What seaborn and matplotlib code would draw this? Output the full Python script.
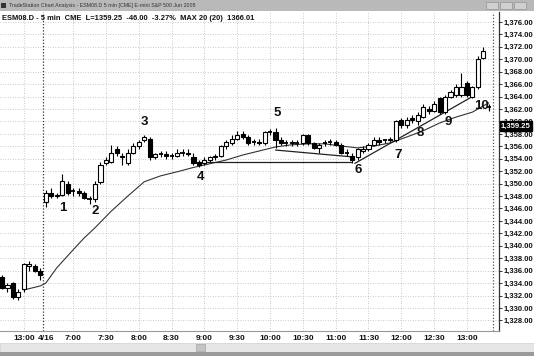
import matplotlib
matplotlib.use("Agg")
import matplotlib.pyplot as plt
import matplotlib.transforms as mtrans
from matplotlib.patches import Rectangle
import seaborn as sns
import numpy as np
import pandas as pd

# ---------------- data (5-min bars, ESM08) ----------------
bar_index = list(range(-8, 82))
opens = [1335.0, 1333.25, 1334.0, 1331.75, 1333.0, 1336.75, 1336.75, 1336.0,
         1347.0, 1348.5, 1348.0, 1348.25, 1350.0, 1348.75, 1348.75, 1348.5, 1347.5, 1347.5,
         1350.25, 1353.25, 1353.5, 1355.5, 1354.5, 1353.25, 1355.0, 1356.0, 1357.0, 1357.25,
         1354.25, 1354.75, 1354.75, 1354.5, 1354.5, 1355.0, 1355.0, 1354.25, 1353.5, 1353.25,
         1353.75, 1354.25, 1354.5, 1356.0, 1356.5, 1357.25, 1358.0, 1357.5, 1356.75, 1356.75,
         1356.5, 1358.25, 1358.25, 1357.0, 1356.5, 1356.5, 1356.5, 1356.5, 1357.75, 1356.5,
         1355.75, 1356.5, 1356.75, 1356.75, 1356.25, 1355.0, 1354.5, 1354.25, 1355.25, 1355.5,
         1356.25, 1357.0, 1357.0, 1357.0, 1357.0, 1360.25, 1359.5, 1360.5, 1360.0, 1360.75,
         1362.0, 1361.75, 1363.75, 1361.5, 1364.0, 1364.25, 1364.25, 1366.25, 1364.0, 1365.5,
         1370.25, 1362.25]
highs = [1335.25, 1334.0, 1334.25, 1333.0, 1337.25, 1337.5, 1337.0, 1336.5,
         1349.0, 1349.25, 1348.5, 1351.5, 1350.5, 1349.25, 1349.25, 1348.75, 1348.0, 1350.5,
         1353.5, 1354.25, 1356.25, 1356.0, 1355.0, 1355.5, 1356.5, 1357.0, 1357.75, 1357.5,
         1355.0, 1355.25, 1355.25, 1355.0, 1355.5, 1355.5, 1355.5, 1355.0, 1353.75, 1354.25,
         1354.5, 1354.75, 1356.25, 1357.0, 1357.75, 1358.5, 1358.5, 1357.75, 1357.25, 1357.25,
         1358.5, 1358.75, 1359.0, 1357.5, 1357.0, 1357.0, 1357.0, 1358.0, 1358.0, 1356.75,
         1356.5, 1357.0, 1357.25, 1357.0, 1356.5, 1355.5, 1355.0, 1355.75, 1356.0, 1356.5,
         1357.5, 1357.5, 1357.25, 1357.5, 1360.25, 1360.5, 1360.75, 1361.0, 1361.5, 1362.75,
         1362.5, 1363.25, 1364.0, 1364.25, 1365.0, 1366.0, 1367.75, 1366.5, 1365.75, 1370.5,
         1372.0, 1362.75]
lows = [1333.0, 1332.5, 1331.5, 1331.25, 1332.5, 1336.0, 1335.75, 1334.5,
        1346.25, 1347.75, 1347.75, 1348.0, 1348.25, 1348.0, 1348.0, 1347.5, 1346.75, 1347.0,
        1350.0, 1353.0, 1353.25, 1354.5, 1353.0, 1353.0, 1354.75, 1355.5, 1356.75, 1353.75,
        1354.0, 1354.25, 1354.0, 1354.0, 1354.25, 1354.5, 1354.5, 1353.0, 1352.75, 1353.0,
        1353.5, 1353.75, 1354.25, 1355.5, 1356.25, 1357.0, 1357.25, 1356.25, 1356.25, 1356.25,
        1356.25, 1357.75, 1355.75, 1356.25, 1356.0, 1356.0, 1356.0, 1356.25, 1356.25, 1355.5,
        1355.0, 1356.0, 1356.25, 1356.0, 1354.75, 1354.5, 1353.25, 1353.75, 1355.0, 1355.25,
        1356.0, 1356.25, 1356.5, 1356.75, 1356.75, 1359.0, 1359.0, 1359.75, 1359.5, 1360.5,
        1361.25, 1361.5, 1361.25, 1361.25, 1363.75, 1364.0, 1364.0, 1364.0, 1363.75, 1365.25,
        1370.0, 1361.75]
closes = [1333.25, 1333.75, 1331.75, 1332.5, 1337.0, 1337.0, 1336.0, 1335.25,
          1348.5, 1348.0, 1348.25, 1350.5, 1348.5, 1348.75, 1348.5, 1347.75, 1347.5, 1350.0,
          1353.0, 1353.75, 1355.0, 1355.0, 1354.25, 1355.0, 1356.0, 1356.75, 1357.5, 1354.25,
          1354.75, 1354.75, 1354.5, 1354.5, 1355.0, 1355.0, 1354.75, 1353.25, 1353.0, 1353.75,
          1354.25, 1354.5, 1356.0, 1356.75, 1357.25, 1357.75, 1357.5, 1356.5, 1356.75, 1356.5,
          1358.25, 1358.25, 1357.0, 1356.5, 1356.5, 1356.75, 1356.5, 1357.75, 1356.5, 1355.75,
          1356.25, 1356.5, 1356.75, 1356.25, 1355.0, 1355.0, 1353.75, 1355.5, 1355.5, 1356.25,
          1357.0, 1356.75, 1357.0, 1357.25, 1360.0, 1359.5, 1360.25, 1360.25, 1361.0, 1362.25,
          1361.75, 1362.75, 1361.5, 1364.0, 1364.75, 1365.5, 1365.5, 1364.25, 1365.5, 1370.0,
          1371.25, 1362.25]

# 20-bar moving average
ma_idx = [-4, -1, 0, 2, 5, 7, 9, 12, 15, 18, 21, 24, 27, 30, 33, 36, 39, 42, 45, 48,
          51, 54, 57, 60, 63, 66, 69, 72, 75, 78, 80, 81]
ma_val = [1332.9, 1333.55, 1334.0, 1336.45, 1339.35, 1341.25, 1342.9, 1345.6, 1348.0,
          1350.3, 1351.25, 1351.9, 1352.6, 1353.2, 1353.8, 1354.6, 1355.25, 1355.9,
          1356.25, 1356.4, 1356.4, 1356.05, 1355.75, 1356.05, 1356.55, 1357.5, 1358.5,
          1359.75, 1360.7, 1361.5, 1362.5, 1363.0]

# hand-drawn trendlines: (x0, y0, x1, y1)
trend_x0 = [28.5, 42, 56.5]
trend_y0 = [1353.5, 1355.4, 1353.25]
trend_x1 = [56, 56, 78]
trend_y1 = [1353.5, 1354.3, 1364.0]

# swing labels
note_text = ["1", "2", "3", "4", "5", "6", "7", "8", "9", "10"]
note_x = [3.1, 9.0, 18.1, 28.2, 42.3, 57.1, 64.4, 68.4, 73.5, 79.6]
note_y = [1346.1, 1345.6, 1359.9, 1351.1, 1361.4, 1352.2, 1354.6, 1358.15, 1359.9, 1362.5]

# time axis labels
tick_pos = [-4, 0, 5, 11, 17, 23, 29, 35, 41, 47, 53, 59, 65, 71, 77]
tick_lab = ["13:00", "4/16", "7:00", "7:30", "8:00", "8:30", "9:00", "9:30", "10:00",
            "10:30", "11:00", "11:30", "12:00", "12:30", "13:00"]
price_ticks = list(range(1328, 1378, 2))
last_price = 1359.25
header = "ESM08.D - 5 min  CME  L=1359.25  -46.00  -3.27%  MAX 20 (20)  1366.01"
window_title = "TradeStation Chart Analysis - ESM08.D 5 min [CME] E-mini S&P 500 Jun 2008"

# ---------------- drawing ----------------
sns.set_style("white")
plt.rcParams["font.family"] = ["Liberation Sans", "DejaVu Sans"]

W, H = 534, 356
fig = plt.figure(figsize=(W / 100, H / 100), dpi=100)
fig.patch.set_facecolor("white")

ax = fig.add_axes([0, (H - 331) / H, 499 / W, (331 - 12) / H])
ax.set_facecolor("white")
ax.set_xlim(-8.37, 82.86)
ax.set_ylim(1326.3, 1377.6)

# grid
for p in price_ticks:
    ax.axhline(p, color="#b8b8b8", lw=0.6, ls=(0, (1, 2)), zorder=0)
for t in tick_pos:
    if t == 0:
        continue
    ax.axvline(t, color="#b8b8b8", lw=0.6, ls=(0, (1, 2)), zorder=0)
ax.axvline(-0.5, color="#333333", lw=0.9, ls=(0, (1, 1.5)), zorder=1)
ax.axvline(81.75, color="#555555", lw=0.9, ls=(0, (1, 1.5)), zorder=1)

df = pd.DataFrame({"i": bar_index, "o": opens, "h": highs, "l": lows, "c": closes})
# wicks
ax.vlines(df["i"], df["l"], df["h"], color="black", lw=0.8, zorder=3)
# bodies
bw = 0.75
for _, r in df.iterrows():
    lo, hi = min(r.o, r.c), max(r.o, r.c)
    if hi - lo < 0.2:
        ax.hlines(r.c, r.i - bw / 2, r.i + bw / 2, color="black", lw=1.3, zorder=4)
    else:
        fc = "white" if r.c > r.o else "black"
        ax.bar(r.i, hi - lo, bottom=lo, width=bw, color=fc, edgecolor="black",
               linewidth=0.8, zorder=4)

# moving average
ma_df = pd.DataFrame({"i": ma_idx, "ma": ma_val})
sns.lineplot(data=ma_df, x="i", y="ma", ax=ax, color="#333333", lw=0.8, zorder=2)

# trendlines
for x0, y0, x1, y1 in zip(trend_x0, trend_y0, trend_x1, trend_y1):
    ax.plot([x0, x1], [y0, y1], color="#222222", lw=0.9, zorder=2)

for t, x, y in zip(note_text, note_x, note_y):
    ax.text(x, y, t, ha="center", va="center", fontsize=9.5, fontweight="bold",
            color="#111111", zorder=6)

# axes styling
ax.set_xlabel("")
ax.set_ylabel("")
ax.yaxis.tick_right()
ax.set_yticks(price_ticks)
ax.set_yticklabels([f"{p:,.2f}" for p in price_ticks])
ax.tick_params(axis="y", length=2.5, width=0.6, pad=0.5, labelsize=5.5, colors="#111111")
for lab in ax.get_yticklabels():
    lab.set_fontweight("bold")
ax.set_xticks(tick_pos)
ax.set_xticklabels(tick_lab)
ax.tick_params(axis="x", length=0, pad=3, labelsize=6, colors="#111111")
for lab in ax.get_xticklabels():
    lab.set_fontweight("bold")
for s in ["top", "left"]:
    ax.spines[s].set_visible(False)
ax.spines["right"].set_color("#333333")
ax.spines["right"].set_linewidth(0.9)
ax.spines["bottom"].set_color("#999999")
ax.spines["bottom"].set_linewidth(0.8)

# last price marker on the price scale
trans = mtrans.blended_transform_factory(ax.transAxes, ax.transData)
ax.text(1.004, last_price, f"{last_price:,.2f}", transform=trans, ha="left", va="center",
        fontsize=5.5, fontweight="bold", color="white", clip_on=False, zorder=8,
        bbox=dict(boxstyle="square,pad=0.15", fc="black", ec="black"))

# header line inside chart
fig.text(2 / W, 1 - 18 / H, header, ha="left", va="center", fontsize=5.4,
         fontweight="bold", color="#111111")

# window title bar
fig.patches.append(Rectangle((0, 1 - 11 / H), 1, 11 / H, transform=fig.transFigure,
                             fc="#b9b9b9", ec="none", zorder=0))
fig.patches.append(Rectangle((1 / W, 1 - 8 / H), 5 / W, 5 / H, transform=fig.transFigure,
                             fc="#333333", ec="none", zorder=1))
fig.text(9 / W, 1 - 5.5 / H, window_title, ha="left", va="center", fontsize=3.8,
         color="#333333")
for bx in [486, 500, 514]:
    fig.patches.append(Rectangle((bx / W, 1 - 9 / H), 12 / W, 7 / H,
                                 transform=fig.transFigure, fc="#d0d0d0", ec="#888888",
                                 lw=0.4, zorder=1))

# scrollbar at bottom
fig.patches.append(Rectangle((0, (H - 352) / H), 1, 9 / H, transform=fig.transFigure,
                             fc="#e6e6e6", ec="#c8c8c8", lw=0.4, zorder=0))
fig.patches.append(Rectangle((196 / W, (H - 351) / H), 9 / W, 7 / H, transform=fig.transFigure,
                             fc="#c4c4c4", ec="#999999", lw=0.4, zorder=1))
fig.patches.append(Rectangle((0, 0), 1, 4 / H, transform=fig.transFigure,
                             fc="#9a9a9a", ec="none", zorder=0))

fig.savefig("out.png", dpi=100, facecolor=fig.get_facecolor())
